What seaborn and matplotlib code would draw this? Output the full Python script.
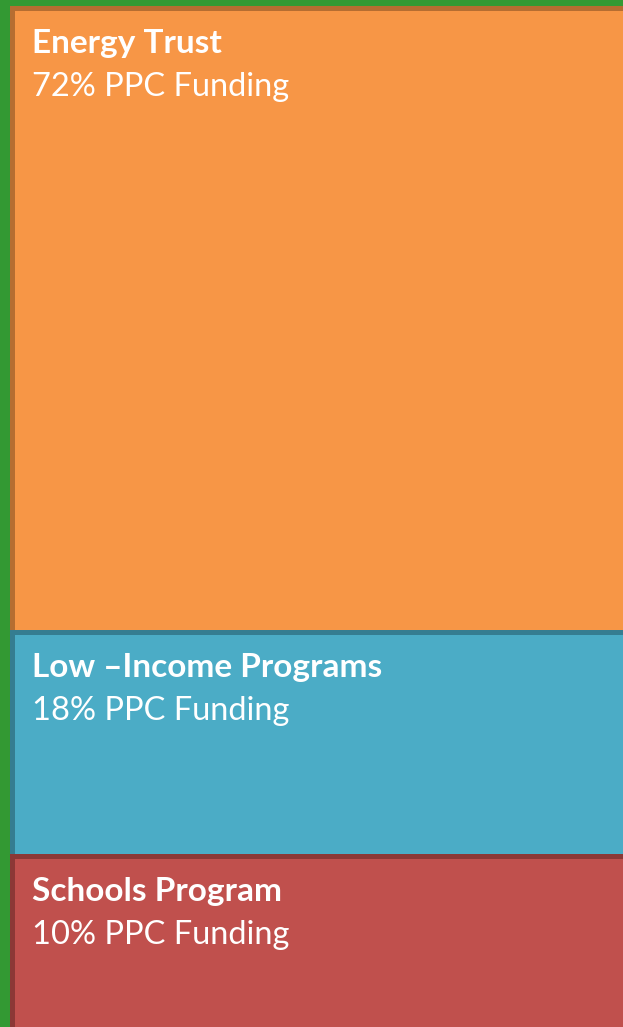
import numpy as np
import seaborn as sns
import matplotlib.pyplot as plt

# blocks, top to bottom
names = ["Energy Trust", "Low \u2013Income Programs", "Schools Program"]
shares = [72, 18, 10]
# visible block heights in the crop (px)
heights = [624, 224, 200]
faces = ["#F79646", "#4BACC6", "#C0504D"]
edges = ["#B66D31", "#357D91", "#8C3836"]

sns.set_style("white")
plt.rcParams['font.family'] = ['Lato', 'DejaVu Sans']

W, H = 623, 1027
fig = plt.figure(figsize=(W / 100, H / 100), dpi=100)
fig.patch.set_facecolor("#339933")
ax = fig.add_axes([0, 0, 1, 1])
ax.set_facecolor("#339933")

tops = 7.5 + np.concatenate([[0], np.cumsum(heights)[:-1]])
left = 11.5
for name, pct, h, top, fc, ec in zip(names, shares, heights, tops, faces, edges):
    ax.bar(left, h, bottom=top, width=W, align="edge",
           color=fc, edgecolor=ec, linewidth=3.6)
    ax.text(32, top + 46, name, color="white", fontsize=24,
            fontweight="bold", va="baseline", ha="left")
    ax.text(32, top + 88, f"{pct}% PPC Funding", color="white",
            fontsize=23.5, va="baseline", ha="left")

ax.set_xlim(0, W)
ax.set_ylim(H, 0)
ax.axis("off")

plt.savefig("out.png", dpi=100, facecolor=fig.get_facecolor())
